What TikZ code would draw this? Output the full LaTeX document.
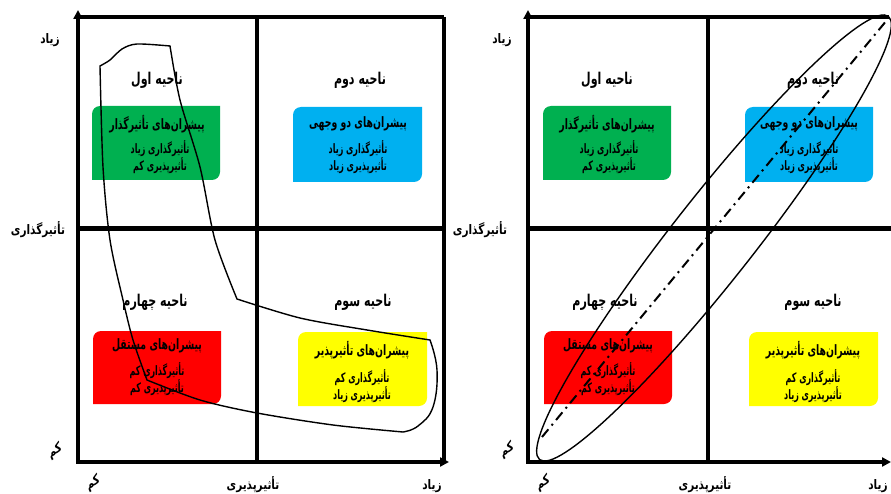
\documentclass[tikz,border=0pt]{standalone}
\usepackage{fontspec}
\usetikzlibrary{arrows.meta}
\TeXXeTstate=1
\newfontfamily\arabicfont[Script=Arabic]{DejaVu Sans}
\newcommand\fa[1]{\beginR #1\endR}
\definecolor{qgreen}{HTML}{00B050}
\definecolor{qblue}{HTML}{00B0F0}
\definecolor{qred}{HTML}{FF0000}
\definecolor{qyellow}{HTML}{FFFF00}
% rounded-diagonal box: top-left and bottom-right corners rounded
\newcommand\qbox[5]{\fill[#5] (#1,#4) -- (#1,#2+8) arc[start angle=180,end angle=270,radius=8] -- (#3,#2) -- (#3,#4-8) arc[start angle=0,end angle=90,radius=8] -- cycle;}
\tikzset{
  axisline/.style={line width=4pt},
  midline/.style={line width=5pt},
  loopline/.style={line width=1.4pt},
  arrowtip/.style={-{Triangle[length=9pt,width=9pt]}},
  regiontitle/.style={font=\arabicfont\bfseries\fontsize{13}{15}\selectfont, inner sep=0pt, transform shape, xscale=0.85, yscale=1.25},
  boxtitle/.style={font=\arabicfont\bfseries\fontsize{11}{13}\selectfont, inner sep=0pt, transform shape, xscale=0.85, yscale=1.3},
  boxlines/.style={font=\arabicfont\bfseries\fontsize{10}{13.2}\selectfont, align=center, inner sep=0pt, transform shape, xscale=0.8, yscale=1.3},
  axislabel/.style={font=\arabicfont\bfseries\fontsize{10.5}{12}\selectfont, inner sep=0pt, transform shape, yscale=1.25},
}
\begin{document}
\begin{tikzpicture}[x=1pt,y=-1pt]
\useasboundingbox (0,0) rectangle (891,494);
\fill[white] (0,0) rectangle (891,494);

% ===== LEFT PANEL =====
\qbox{92}{106}{220}{180}{qgreen}
\qbox{293}{107}{422}{182}{qblue}
\qbox{93}{331}{221}{404}{qred}
\qbox{298}{332}{427}{406}{qyellow}

\node[regiontitle] (l1t) at (157,80) {\fa{ناحیه اول}};
\node[regiontitle] (l2t) at (360,80) {\fa{ناحیه دوم}};
\node[regiontitle] (l4t) at (155,302) {\fa{ناحیه چهارم}};
\node[regiontitle] (l3t) at (363,302) {\fa{ناحیه سوم}};

\node[boxtitle] (l1h) at (157,124) {\fa{پیشران‌های تأثیرگذار}};
\node[boxlines] (l1b) at (160,157) {\fa{تأثیرگذاری زیاد}\\\fa{تأثیرپذیری کم}};
\node[boxtitle] (l2h) at (358,124) {\fa{پیشران‌های دو وجهی}};
\node[boxlines] (l2b) at (358,157) {\fa{تأثیرگذاری زیاد}\\\fa{تأثیرپذیری زیاد}};
\node[boxtitle] (l4h) at (157,346) {\fa{پیشران‌های مستقل}};
\node[boxlines] (l4b) at (157,379) {\fa{تأثیرگذاری کم}\\\fa{تأثیرپذیری کم}};
\node[boxtitle] (l3h) at (362,350) {\fa{پیشران‌های تأثیرپذیر}};
\node[boxlines] (l3b) at (362,386) {\fa{تأثیرگذاری کم}\\\fa{تأثیرپذیری زیاد}};

\draw[axisline] (78,17) -- (444,17);
\draw[axisline] (444,17) -- (444,462);
\draw[midline] (78,229) -- (444,229);
\draw[axisline] (257,17) -- (257,462);
\draw[axisline,arrowtip] (78,462) -- (78,10);
\draw[axisline,arrowtip] (76,462) -- (449,462);

\node[axislabel] (lhi) at (50,40) {\fa{زیاد}};
\node[axislabel] (linf) at (38,230) {\fa{تأثیرگذاری}};
\node[axislabel,rotate=30] (llo) at (55,451) {\fa{کم}};
\node[axislabel,rotate=30] (lxlo) at (93,483) {\fa{کم}};
\node[axislabel] (ldep) at (253,485) {\fa{تأثیرپذیری}};
\node[axislabel] (lxhi) at (432,486) {\fa{زیاد}};

\draw[loopline]
  plot[smooth,tension=0.5] coordinates {(100,66) (110,60) (122,49) (137,44) (170,46)}
  -- plot[smooth,tension=0.5] coordinates {(170,46) (180,100) (200,167) (215,240) (237,299)}
  -- plot[smooth,tension=0.5] coordinates {(237,299) (300,318) (367,330) (430,340)}
  -- plot[smooth,tension=0.7] coordinates {(430,340) (437,370) (433,407) (418,426) (403,432)}
  -- plot[smooth,tension=0.5] coordinates {(403,432) (333,425) (257,413) (200,400) (147,380)}
  -- plot[smooth,tension=0.5] coordinates {(147,380) (133,340) (123,300) (110,240) (103,167) (100,66)}
  -- cycle;

% ===== RIGHT PANEL =====
\qbox{543}{106}{671}{180}{qgreen}
\qbox{745}{107}{873}{182}{qblue}
\qbox{544}{331}{672}{404}{qred}
\qbox{749}{332}{878}{406}{qyellow}

\node[regiontitle] (r1t) at (607,80) {\fa{ناحیه اول}};
\node[regiontitle] (r2t) at (813,80) {\fa{ناحیه دوم}};
\node[regiontitle] (r4t) at (605,302) {\fa{ناحیه چهارم}};
\node[regiontitle] (r3t) at (813,302) {\fa{ناحیه سوم}};

\node[boxtitle] (r1h) at (607,124) {\fa{پیشران‌های تأثیرگذار}};
\node[boxlines] (r1b) at (609,157) {\fa{تأثیرگذاری زیاد}\\\fa{تأثیرپذیری کم}};
\node[boxtitle] (r2h) at (809,124) {\fa{پیشران‌های دو وجهی}};
\node[boxlines] (r2b) at (809,157) {\fa{تأثیرگذاری زیاد}\\\fa{تأثیرپذیری زیاد}};
\node[boxtitle] (r4h) at (608,346) {\fa{پیشران‌های مستقل}};
\node[boxlines] (r4b) at (608,379) {\fa{تأثیرگذاری کم}\\\fa{تأثیرپذیری کم}};
\node[boxtitle] (r3h) at (813,350) {\fa{پیشران‌های تأثیرپذیر}};
\node[boxlines] (r3b) at (813,386) {\fa{تأثیرگذاری کم}\\\fa{تأثیرپذیری زیاد}};

\draw[axisline] (528,17) -- (889,17);
\draw[midline] (528,229) -- (891,229);
\draw[axisline] (708,17) -- (708,462);
\draw[axisline,arrowtip] (528,462) -- (528,10);
\draw[axisline,arrowtip] (526,462) -- (891,462);

\node[axislabel] (rhi) at (502,40) {\fa{زیاد}};
\node[axislabel] (rinf) at (480,230) {\fa{تأثیرگذاری}};
\node[axislabel,rotate=30] (rlo) at (507,450) {\fa{کم}};
\node[axislabel,rotate=30] (rxlo) at (543,483) {\fa{کم}};
\node[axislabel] (rdep) at (705,485) {\fa{تأثیرپذیری}};
\node[axislabel] (rxhi) at (878,486) {\fa{زیاد}};

\coordinate (dstart) at (542,437);
\coordinate (dend) at (887,20);
\draw[line width=2pt,dash pattern=on 10pt off 5pt on 2pt off 5pt] (dstart) -- (dend);
\draw[loopline,rotate around={51.8:(714,238)}] (714,238) ellipse [x radius=282, y radius=41];
\end{tikzpicture}
\end{document}
